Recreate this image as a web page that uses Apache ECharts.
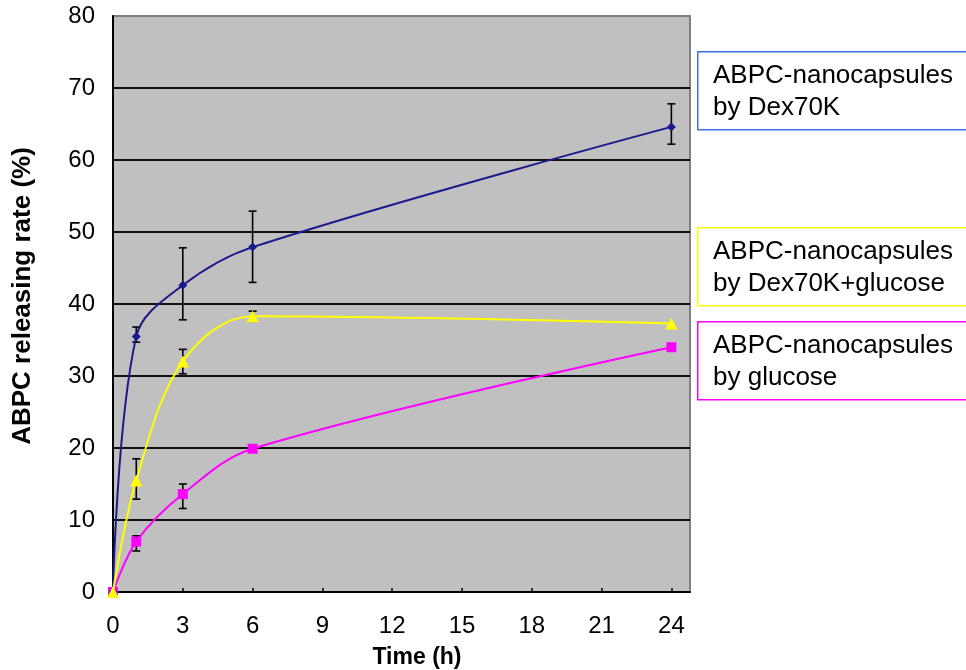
<!DOCTYPE html>
<html>
<head>
<meta charset="utf-8">
<script src="https://cdn.jsdelivr.net/npm/echarts@6/dist/echarts.min.js"></script>
<style>
  html, body { margin: 0; padding: 0; background: #fff; }
  #chart { width: 966px; height: 670px; }
</style>
</head>
<body>
<div id="chart"></div>
<script>
// 时间点 (h)
const timeH = [0, 1, 3, 6, 24]
const xTicks = [0, 3, 6, 9, 12, 15, 18, 21, 24]

// ABPC-nanocapsules by Dex70K
const dex70k = [0, 35.5, 42.6, 47.9, 64.6]
const dex70kLow = [null, 34.7, 37.8, 43.0, 62.2]
const dex70kHigh = [null, 36.8, 47.8, 52.9, 67.8]

// ABPC-nanocapsules by Dex70K+glucose
const dexGlu = [0, 15.5, 32.0, 38.3, 37.3]
const dexGluLow = [null, 12.9, 30.3, 37.6, null]
const dexGluHigh = [null, 18.5, 33.7, 39.0, null]

// ABPC-nanocapsules by glucose
const glucose = [0, 7.0, 13.6, 19.9, 34.0]
const glucoseLow = [null, 5.7, 11.6, 19.5, null]
const glucoseHigh = [null, 7.8, 15.0, 20.4, null]

const seriesNames = [
  'ABPC-nanocapsules\nby Dex70K',
  'ABPC-nanocapsules\nby Dex70K+glucose',
  'ABPC-nanocapsules\nby glucose'
]

const FONT = '"Liberation Sans", Arial, sans-serif'

function pairs(ys) {
  return timeH.map((t, i) => [t, ys[i]])
}
function errData(lo, hi) {
  let arr = []
  timeH.forEach((t, i) => {
    if (lo[i] != null && hi[i] != null) arr.push([t, lo[i], hi[i]])
  })
  return arr
}

// 误差线
function errorSeries(lo, hi) {
  return {
    type: 'custom',
    z: 3,
    silent: true,
    data: errData(lo, hi),
    renderItem: function(params, api) {
      const x = api.value(0)
      const top = api.coord([x, api.value(2)])
      const bot = api.coord([x, api.value(1)])
      const w = 4
      const style = { stroke: '#000', lineWidth: 1.6 }
      return {
        type: 'group',
        children: [
          { type: 'line', shape: { x1: top[0], y1: top[1], x2: bot[0], y2: bot[1] }, style: style },
          { type: 'line', shape: { x1: top[0] - w, y1: top[1], x2: top[0] + w, y2: top[1] }, style: style },
          { type: 'line', shape: { x1: bot[0] - w, y1: bot[1], x2: bot[0] + w, y2: bot[1] }, style: style }
        ]
      }
    }
  }
}

function lineSeries(name, ys, color, symbol, size, z) {
  return {
    name: name,
    type: 'line',
    data: pairs(ys),
    smooth: 0.35,
    symbol: symbol,
    symbolSize: size,
    showAllSymbol: true,
    z: z,
    lineStyle: { color: color, width: 2 },
    itemStyle: { color: color, borderWidth: 0 }
  }
}

// 图例方框
function legendBox(text, color, top) {
  return [{
    type: 'rect',
    left: 697,
    top: top,
    shape: { width: 320, height: 78 },
    style: { fill: '#fff', stroke: color, lineWidth: 1.5 }
  }, {
    type: 'text',
    left: 713,
    top: top + 9,
    style: { text: text, font: '26px ' + FONT, fill: '#000', lineHeight: 32 }
  }]
}

const myChart = echarts.init(document.getElementById('chart'))
myChart.setOption({
  backgroundColor: '#fff',
  animation: false,
  grid: {
    left: 113,
    top: 16,
    right: 276,
    bottom: 78,
    show: true,
    backgroundColor: '#C0C0C0',
    borderColor: '#808080',
    borderWidth: 2
  },
  xAxis: {
    type: 'value',
    min: 0,
    max: 24.8,
    interval: 3,
    axisLine: { lineStyle: { color: '#000', width: 2 } },
    axisTick: { inside: true, length: 4, lineStyle: { color: '#000', width: 1.5 } },
    splitLine: { show: false },
    axisLabel: {
      showMaxLabel: false,
      margin: 22,
      color: '#000',
      fontSize: 24,
      fontFamily: FONT,
      formatter: v => (xTicks.indexOf(v) >= 0 ? String(v) : '')
    }
  },
  yAxis: {
    type: 'value',
    min: 0,
    max: 80,
    interval: 10,
    axisLine: { show: true, lineStyle: { color: '#000', width: 2 } },
    axisTick: { show: false },
    splitLine: { showMaxLine: false, showMinLine: false, lineStyle: { color: '#111', width: 2 } },
    axisLabel: {
      margin: 18,
      color: '#000',
      fontSize: 24,
      fontFamily: FONT
    }
  },
  graphic: [].concat(
    legendBox(seriesNames[0], '#3F6FE8', 51),
    legendBox(seriesNames[1], '#FFFF00', 227),
    legendBox(seriesNames[2], '#FF00FF', 321),
    [{
      type: 'text',
      x: 23,
      y: 296,
      rotation: Math.PI / 2,
      style: {
        text: 'ABPC releasing rate (%)',
        font: 'bold 26px ' + FONT,
        fill: '#000',
        align: 'center',
        verticalAlign: 'middle'
      }
    }, {
      type: 'text',
      x: 417,
      y: 658,
      style: {
        text: 'Time (h)',
        font: 'bold 23px ' + FONT,
        fill: '#000',
        align: 'center',
        verticalAlign: 'middle'
      }
    }]
  ),
  series: [
    errorSeries(dex70kLow, dex70kHigh),
    errorSeries(dexGluLow, dexGluHigh),
    errorSeries(glucoseLow, glucoseHigh),
    lineSeries(seriesNames[2], glucose, '#FF00FF', 'rect', 10, 4),
    lineSeries(seriesNames[0], dex70k, '#1A1A8C', 'diamond', 9, 5),
    lineSeries(seriesNames[1], dexGlu, '#FFFF00', 'triangle', 12, 6)
  ]
})
window.addEventListener('resize', function() {
  myChart.resize()
})
</script>
</body>
</html>
